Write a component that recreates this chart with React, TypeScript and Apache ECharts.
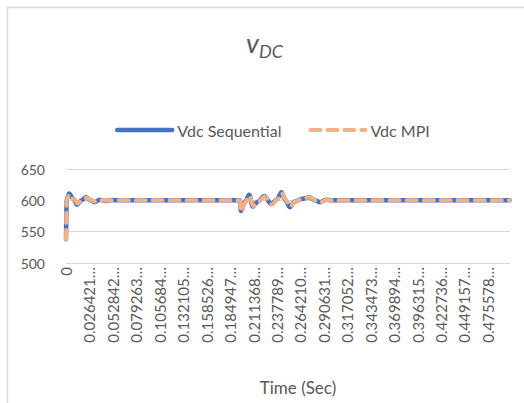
import React, { useEffect, useRef } from "react";
import * as echarts from "echarts";

// Time (s) / voltage samples
const seqT = [0, 0.0008, 0.0035, 0.008, 0.0125, 0.0175, 0.0225, 0.0275, 0.032, 0.038, 0.045, 0.052, 0.06, 0.196, 0.1972, 0.2015, 0.2065, 0.2105, 0.2165, 0.2235, 0.2315, 0.2375, 0.243, 0.2475, 0.2522, 0.258, 0.265, 0.2745, 0.2805, 0.2865, 0.293, 0.3, 0.5];
const seqV = [538, 601, 611, 603, 593, 600, 605, 600, 597, 601, 599, 600.5, 600, 600, 583, 597, 609, 590, 598, 607, 594, 601, 613, 600, 589, 598, 602, 605, 600, 597, 601, 600, 600];
const mpiT = [0, 0.0008, 0.0038, 0.0085, 0.013, 0.018, 0.023, 0.028, 0.0325, 0.038, 0.045, 0.052, 0.06, 0.196, 0.1975, 0.2018, 0.2068, 0.211, 0.217, 0.224, 0.232, 0.238, 0.2435, 0.248, 0.2528, 0.2585, 0.2655, 0.275, 0.281, 0.287, 0.2935, 0.3, 0.5];
const mpiV = [537, 600, 609, 602, 595, 600, 604, 600, 598, 600.5, 599.5, 600, 600, 600, 582, 596, 607, 591, 598, 606, 593, 601, 611, 600, 590, 598, 602, 605, 600, 597, 600.5, 600, 600];

const seriesNames = ["Vdc Sequential", "Vdc MPI"];
const xTickStep = 0.0264210526316;
const xMax = 0.5005;
const yMin = 500;
const yMax = 650;
const yStep = 50;

const TEXT = "#595959";
const FONT = "Lato, 'Open Sans', sans-serif";
const BLUE = "#4472c4";
const ORANGE = "#f4b183";
const blueLine = { color: BLUE, width: 4.5, cap: "round", join: "round" };
const orangeLine = { color: ORANGE, width: 4, type: [10, 7], cap: "round", join: "round" };

export default function App() {
  const ref = useRef<HTMLDivElement>(null);
  useEffect(() => {
    document.body.style.margin = "0";
    const chart = echarts.init(ref.current!, undefined, { renderer: "svg" });
    const seq = seqT.map((t, i) => [t, seqV[i]]);
    const mpi = mpiT.map((t, i) => [t, mpiV[i]]);
    chart.setOption({
      animation: false,
      backgroundColor: "#ffffff",
      textStyle: { fontFamily: FONT, color: TEXT },
      graphic: [
        {
          type: "rect",
          shape: { x: 7.5, y: 7.5, width: 600, height: 500 },
          style: { fill: "none", stroke: "#d9d9d9", lineWidth: 1.5 },
          silent: true,
        },
        {
          type: "text",
          x: 246,
          y: 42,
          style: { text: "v", fontSize: 27, fontStyle: "italic", fontFamily: FONT, fill: TEXT, verticalAlign: "middle" },
        },
        {
          type: "text",
          x: 259,
          y: 51,
          style: { text: "DC", fontSize: 18, fontStyle: "italic", fontFamily: FONT, fill: TEXT, verticalAlign: "middle" },
        },
      ],
      legend: {
        left: 110,
        top: 117,
        itemWidth: 55,
        itemHeight: 14,
        itemGap: 27,
        textStyle: { fontSize: 16, color: TEXT, fontFamily: FONT },
        data: [
          { name: seriesNames[0], itemStyle: { opacity: 0 }, lineStyle: blueLine },
          { name: seriesNames[1], itemStyle: { opacity: 0 }, lineStyle: orangeLine },
        ],
      },
      grid: { left: 66, right: 14, top: 169, bottom: 140 },
      xAxis: {
        type: "value",
        min: 0,
        max: xMax,
        interval: xTickStep,
        name: "Time (Sec)",
        nameLocation: "middle",
        nameGap: 116,
        nameTextStyle: { fontSize: 17, color: TEXT, fontFamily: FONT, padding: [0, 0, 0, 20] },
        axisLine: { lineStyle: { color: "#d9d9d9", width: 1 } },
        axisTick: { show: false },
        splitLine: { show: false },
        axisLabel: {
          rotate: 90,
          margin: 4,
          fontSize: 15,
          color: TEXT,
          fontFamily: FONT,
          showMaxLabel: false,
          formatter: (v: number) => (v < 1e-9 ? "0" : v.toFixed(10).slice(0, 8) + "…"),
        },
      },
      yAxis: {
        type: "value",
        min: yMin,
        max: yMax,
        interval: yStep,
        axisLine: { show: false },
        axisTick: { show: false },
        splitLine: { lineStyle: { color: "#d9d9d9", width: 1 } },
        axisLabel: { fontSize: 14, color: TEXT, fontFamily: FONT, margin: 21 },
      },
      series: [
        {
          name: seriesNames[0],
          type: "line",
          data: seq,
          symbol: "none",
          smooth: 0.35,
          smoothMonotone: "x",
          lineStyle: blueLine,
          itemStyle: { color: BLUE },
        },
        {
          name: seriesNames[1],
          type: "line",
          data: mpi,
          symbol: "none",
          smooth: 0.35,
          smoothMonotone: "x",
          lineStyle: orangeLine,
          itemStyle: { color: ORANGE },
        },
      ],
    });
    return () => chart.dispose();
  }, []);
  return <div ref={ref} style={{ width: 524, height: 403, overflow: "hidden" }} />;
}
